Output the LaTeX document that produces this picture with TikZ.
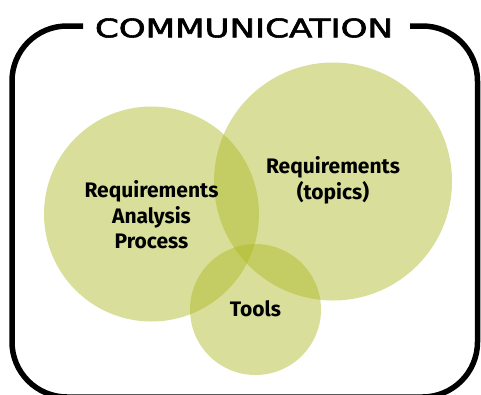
\documentclass[tikz,border=0pt]{standalone}
\usepackage{fontspec}
\setmainfont{Fira Sans}
\newfontfamily\titlefont{DejaVu Sans}[FakeBold=2.2]
\definecolor{venn}{RGB}{171,184,31}
\tikzset{
  vcircle/.style={circle, fill=venn, fill opacity=0.45, draw=none, inner sep=0pt},
  vlabel/.style={align=center, font=\fontsize{21}{25.5}\selectfont\bfseries, text=black},
  frame/.style={line width=5.5pt, draw=black, rounded corners=55pt}
}
\begin{document}
\begin{tikzpicture}[x=1pt,y=-1pt]
\useasboundingbox (0,0) rectangle (481,394);
\node[vcircle, minimum size=215pt] (rap) at (151.5,214) {};
\node[vcircle, minimum size=238pt] (rt) at (333,181.5) {};
\node[vcircle, minimum size=131pt] (tl) at (255.5,309.5) {};
\node[vlabel] (raplbl) at (151.5,215) {Requirements\\Analysis\\Process};
\node[vlabel] (rtlbl) at (333,180.5) {Requirements\\(topics)};
\node[vlabel] (tllbl) at (255.5,309) {Tools};
\node[inner sep=0pt] (title) at (244,28) {\resizebox{298pt}{19pt}{\titlefont COMMUNICATION}};
\coordinate (tlstart) at (83,26);
\coordinate (trend) at (410,26);
\draw[frame] (tlstart) -- (12,26) -- (12,397) -- (477.5,397) -- (477.5,26) -- (trend);
\end{tikzpicture}
\end{document}
